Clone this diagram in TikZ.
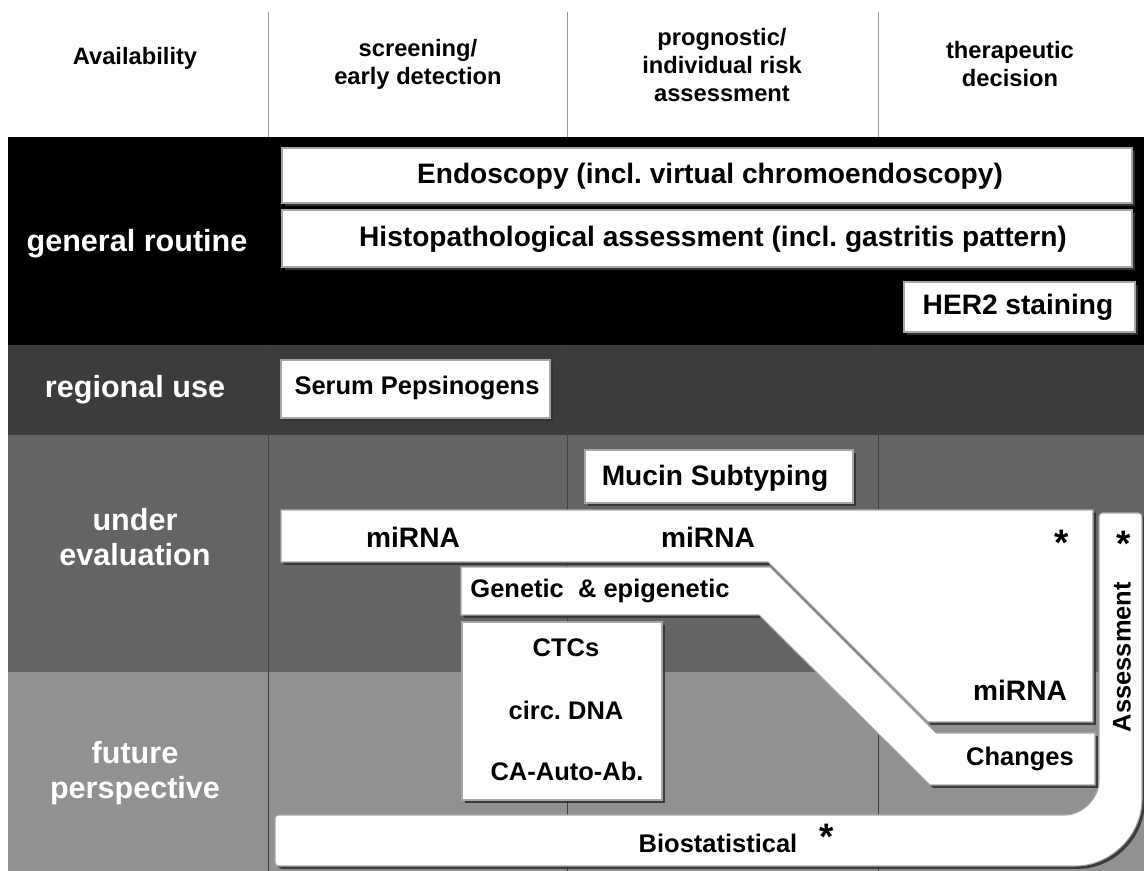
\documentclass[tikz,border=0pt]{standalone}
\usepackage{fontspec}
\setmainfont{Liberation Sans}
\usetikzlibrary{shadows}
\frenchspacing

\definecolor{regband}{HTML}{3C3C3C}
\definecolor{evalband}{HTML}{646464}
\definecolor{futband}{HTML}{919191}

\begin{document}
\begin{tikzpicture}[x=0.02cm,y=-0.02cm,
  wbox/.style={fill=white,draw=black!35,line width=0.6pt,
    drop shadow={shadow xshift=1.6pt,shadow yshift=-1.6pt,fill=black!80,opacity=0.9}},
  boxtxt/.style={font=\fontsize{16}{19}\selectfont\bfseries,text=black},
  smalltxt/.style={font=\fontsize{14.5}{17}\selectfont\bfseries,text=black},
  startxt/.style={font=\fontsize{21}{21}\selectfont\bfseries,text=black},
  rowtxt/.style={font=\fontsize{17.4}{19.8}\selectfont\bfseries,text=white,align=center},
  headtxt/.style={font=\fontsize{13.5}{16}\selectfont\bfseries,align=center},
  sepline/.style={black!75,line width=0.5pt}]
\useasboundingbox (0,0) rectangle (1144,871);
%
% header row
\draw[gray!80] (268,12)--(268,137);
\draw[gray!80] (567,12)--(567,137);
\draw[gray!80] (878,12)--(878,137);
\node[headtxt] (avail) at (135,58) {Availability};
\node[headtxt] (screen) at (418,64) {screening/\\early detection};
\node[headtxt] (progn) at (722,65) {prognostic/\\individual risk\\assessment};
\node[headtxt] (therap) at (1010,64) {therapeutic\\decision};
%
% bands
\fill[black] (8,137) rectangle (1144,345);
\fill[regband] (8,345) rectangle (1144,435);
\fill[evalband] (8,435) rectangle (1144,672);
\fill[futband] (8,672) rectangle (1144,871);
\draw[sepline] (268,345)--(268,871);
\draw[sepline] (567,345)--(567,871);
\draw[sepline] (878,345)--(878,871);
\node[rowtxt] (genrout) at (137,244) {general routine};
\node[rowtxt] (regional) at (135,390) {regional use};
\node[rowtxt] (undereval) at (135,537) {under\\evaluation};
\node[rowtxt] (future) at (135,773) {future\\perspective};
%
% general routine
\draw[wbox] (282,148) rectangle (1132,203);
\node[boxtxt] (endo) at (710,176) {Endoscopy (incl. virtual chromoendoscopy)};
\draw[wbox] (282,210) rectangle (1132,267);
\node[boxtxt] (histo) at (713,239) {Histopathological assessment (incl. gastritis pattern)};
\draw[wbox] (904,282) rectangle (1135,332);
\node[boxtxt] (her2) at (1018,307) {HER2 staining};
%
% regional use
\draw[wbox] (281,360) rectangle (550,418);
\node[smalltxt] (pepsin) at (417,388) {Serum Pepsinogens};
%
% under evaluation / future
\draw[wbox] (585,450) rectangle (853,503);
\node[boxtxt] (mucin) at (715,478) {Mucin Subtyping};
% assessment / biostatistical
\draw[wbox,rounded corners=2pt] (1099,778)--(1099,513)--(1142,513)--(1142,796)
  .. controls (1142,835) and (1111,866) .. (1072,866)--(275,866)--(275,815)--(1062,815)
  .. controls (1082,815) and (1099,798) .. (1099,778)--cycle;
\node[smalltxt,rotate=90] (assess) at (1122,657) {Assessment};
\node[startxt] (astar) at (1124,544) {*};
\node[smalltxt] (biostat) at (718,843) {Biostatistical};
\node[startxt] (bstar) at (827,837) {*};
% miRNA
\draw[wbox] (281,510)--(1093,510)--(1093,722)--(928,722)--(768,562)--(281,562)--cycle;
\node[boxtxt] (mirna1) at (413,537) {miRNA};
\node[boxtxt] (mirna2) at (708,537) {miRNA};
\node[startxt] (mstar) at (1062,543) {*};
\node[boxtxt] (mirna3) at (1020,690) {miRNA};
% genetic & epigenetic
\draw[wbox] (461,567)--(770,567)--(936,733)--(1095,733)--(1095,785)--(930,785)--(759,615)--(461,615)--cycle;
\node[smalltxt] (genetic) at (600,591) {Genetic~~\& epigenetic};
\node[smalltxt] (changes) at (1020,759) {Changes};
% CTCs
\draw[wbox] (462,622) rectangle (662,800);
\node[smalltxt] (ctc) at (566,648) {CTCs};
\node[smalltxt] (circdna) at (566,710) {circ. DNA};
\node[smalltxt] (autoab) at (567,771) {CA-Auto-Ab.};
\end{tikzpicture}
\end{document}
